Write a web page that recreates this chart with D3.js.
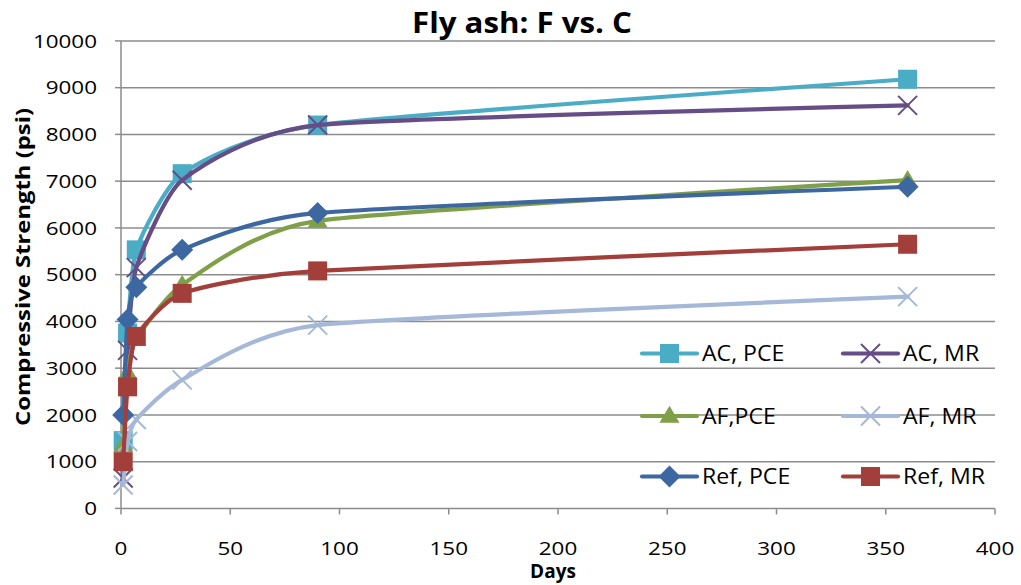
<!DOCTYPE html>
<html>
<head>
<meta charset="utf-8">
<script src="https://cdn.jsdelivr.net/npm/d3@7"></script>
<style>
  html, body { margin: 0; padding: 0; background: #ffffff; }
  svg { display: block; }
  text { font-family: "Open Sans", "Liberation Sans", sans-serif; fill: #000; }
</style>
</head>
<body>
<script>
// ---- data ----
const days = [1, 3, 7, 28, 90, 360];
const acPCE  = [1450, 3750, 5530, 7160, 8200, 9180];
const acMR   = [650, 3380, 5150, 7020, 8200, 8620];
const afPCE  = [1350, 2900, 3620, 4780, 6150, 7020];
const afMR   = [500, 1430, 1900, 2750, 3920, 4530];
const refPCE = [2000, 4040, 4730, 5530, 6320, 6880];
const refMR  = [1000, 2600, 3680, 4600, 5080, 5650];

const seriesNames = ["AC, PCE", "AC, MR", "AF,PCE", "AF, MR", "Ref, PCE", "Ref, MR"];
const seriesValues = [acPCE, acMR, afPCE, afMR, refPCE, refMR];
const seriesColors = ["#4BACC6", "#664D86", "#809F49", "#A6B8D7", "#3D67A0", "#A33F3B"];
const seriesMarkers = ["square", "x", "triangle", "x", "diamond", "square"];

const xTicks = [0, 50, 100, 150, 200, 250, 300, 350, 400];
const yTicks = [0, 1000, 2000, 3000, 4000, 5000, 6000, 7000, 8000, 9000, 10000];

const title = "Fly ash: F vs. C";
const xTitle = "Days";
const yTitle = "Compressive Strength (psi)";

// ---- layout ----
const W = 1021, H = 585;
const svg = d3.select("body").append("svg").attr("width", W).attr("height", H);

const x = d3.scaleLinear().domain([0, 400]).range([121, 995]);
const y = d3.scaleLinear().domain([0, 10000]).range([508.4, 40.9]);

const gridColor = "#8c8c8c";

// gridlines
svg.append("g").selectAll("line").data(yTicks).join("line")
  .attr("x1", x(0)).attr("x2", x(400))
  .attr("y1", d => y(d)).attr("y2", d => y(d))
  .attr("stroke", gridColor).attr("stroke-width", 1.5);

// y axis line + ticks
svg.append("line").attr("x1", x(0)).attr("x2", x(0)).attr("y1", y(0)).attr("y2", y(10000))
  .attr("stroke", gridColor).attr("stroke-width", 1.5);
svg.append("g").selectAll("line").data(yTicks).join("line")
  .attr("x1", x(0) - 6).attr("x2", x(0))
  .attr("y1", d => y(d)).attr("y2", d => y(d))
  .attr("stroke", gridColor).attr("stroke-width", 1.5);
// x ticks
svg.append("g").selectAll("line").data(xTicks).join("line")
  .attr("x1", d => x(d)).attr("x2", d => x(d))
  .attr("y1", y(0)).attr("y2", y(0) + 6)
  .attr("stroke", gridColor).attr("stroke-width", 1.5);

function txt(px, py, s, size, opts = {}) {
  const sx = opts.sx || 1;
  const t = svg.append("text")
    .attr("transform", `translate(${px},${py}) ${opts.rotate ? "rotate(" + opts.rotate + ")" : ""} scale(${sx},1)`)
    .attr("text-anchor", opts.anchor || "start")
    .attr("font-size", size + "px")
    .attr("font-weight", opts.weight || "normal")
    .text(s);
  if (opts.len) t.attr("textLength", opts.len).attr("lengthAdjust", "spacingAndGlyphs");
  return t;
}

// tick labels
yTicks.forEach(v => txt(97, y(v) + 6.8, String(v), 19, {anchor: "end", sx: 1.18}));
xTicks.forEach(v => txt(x(v), 555, String(v), 19, {anchor: "middle", sx: 1.18}));

// titles
txt(522, 33, title, 28, {anchor: "middle", weight: "bold", len: 220});
txt(553, 578, xTitle, 19, {anchor: "middle", weight: "bold"});
txt(30, 267, yTitle, 19.5, {anchor: "middle", weight: "bold", rotate: -90, len: 318});

// ---- markers ----
function drawMarker(g, type, cx, cy, color) {
  if (type === "square") {
    const s = 19;
    g.append("rect").attr("x", cx - s / 2).attr("y", cy - s / 2).attr("width", s).attr("height", s)
      .attr("fill", color);
  } else if (type === "diamond") {
    const r = 11;
    g.append("path").attr("d", `M${cx},${cy - r}L${cx + r},${cy}L${cx},${cy + r}L${cx - r},${cy}Z`)
      .attr("fill", color);
  } else if (type === "triangle") {
    const w = 10, h = 17;
    g.append("path").attr("d", `M${cx},${cy - h * 0.6}L${cx + w},${cy + h * 0.4}L${cx - w},${cy + h * 0.4}Z`)
      .attr("fill", color);
  } else if (type === "x") {
    const r = 9.5;
    g.append("path").attr("d", `M${cx - r},${cy - r}L${cx + r},${cy + r}M${cx - r},${cy + r}L${cx + r},${cy - r}`)
      .attr("stroke", color).attr("stroke-width", 2).attr("fill", "none");
  }
}

// ---- series ----
const line = d3.line().x(d => x(d[0])).y(d => y(d[1])).curve(d3.curveCardinal.tension(0.45));

seriesValues.forEach((vals, i) => {
  const g = svg.append("g");
  const pts = days.map((d, j) => [d, vals[j]]);
  g.append("path").attr("d", line(pts))
    .attr("fill", "none").attr("stroke", seriesColors[i])
    .attr("stroke-width", 4.2).attr("stroke-linejoin", "round").attr("stroke-linecap", "round");
  pts.forEach(p => drawMarker(g, seriesMarkers[i], x(p[0]), y(p[1]), seriesColors[i]));
});

// ---- legend ----
const legendRows = [353.5, 416, 476.5];
const legendCols = [642, 843];
seriesNames.forEach((name, i) => {
  const row = Math.floor(i / 2), col = i % 2;
  const ly = legendRows[row], lx = legendCols[col];
  const g = svg.append("g");
  g.append("line").attr("x1", lx).attr("x2", lx + 55).attr("y1", ly).attr("y2", ly)
    .attr("stroke", seriesColors[i]).attr("stroke-width", 4.2).attr("stroke-linecap", "round");
  drawMarker(g, seriesMarkers[i], lx + 27.5, ly, seriesColors[i]);
  txt(lx + 60, ly + 7.5, name, 21, {sx: 1.1});
});
</script>
</body>
</html>
